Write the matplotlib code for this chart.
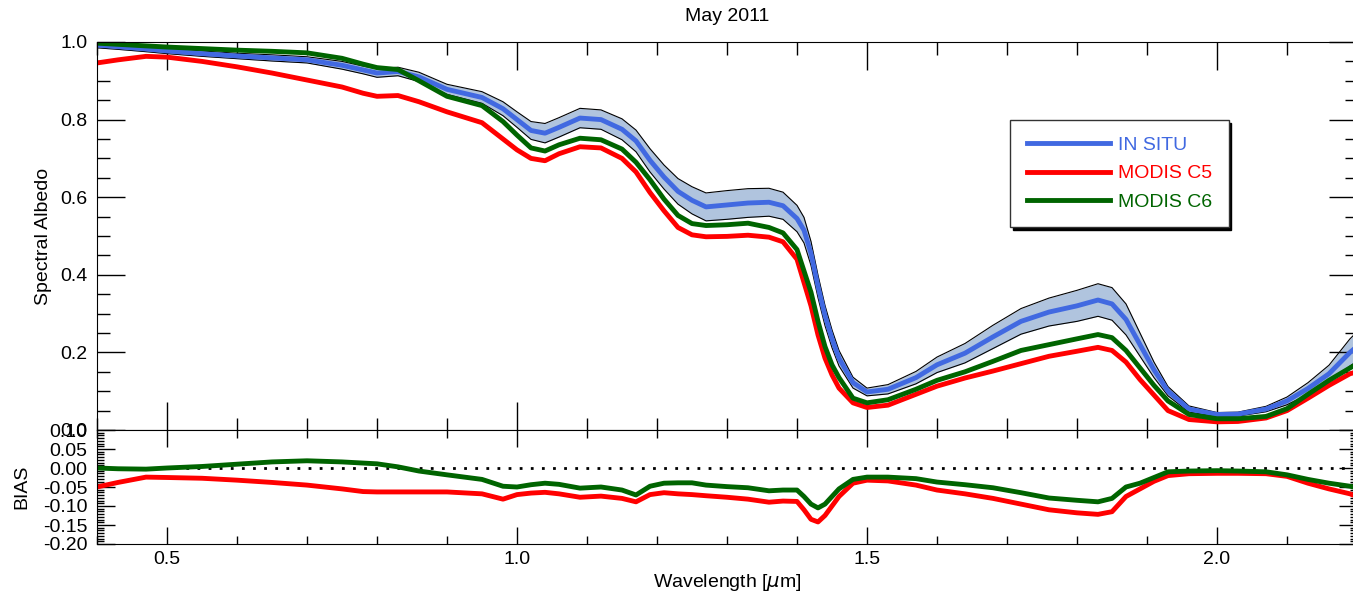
import matplotlib
matplotlib.use("Agg")
import matplotlib.pyplot as plt
from matplotlib.ticker import MultipleLocator, AutoMinorLocator
import numpy as np

plt.rcParams['font.family'] = ['Liberation Sans', 'DejaVu Sans']
plt.rcParams['font.size'] = 14

# wavelength grid (um)
wl = [0.40, 0.43, 0.47, 0.50, 0.55, 0.60, 0.65, 0.70, 0.75, 0.78, 0.80, 0.83, 0.86,
      0.90, 0.95, 0.98, 1.00, 1.02, 1.04, 1.06, 1.09, 1.12, 1.15, 1.17, 1.19, 1.21,
      1.23, 1.25, 1.27, 1.30, 1.33, 1.36, 1.38, 1.40, 1.41, 1.42, 1.43, 1.44, 1.45,
      1.46, 1.48, 1.50, 1.53, 1.57, 1.60, 1.64, 1.68, 1.72, 1.76, 1.80, 1.83, 1.85,
      1.87, 1.89, 1.91, 1.93, 1.96, 2.00, 2.03, 2.07, 2.10, 2.13, 2.16, 2.19, 2.20]

insitu = [0.992, 0.988, 0.982, 0.977, 0.970, 0.964, 0.959, 0.954, 0.940, 0.928, 0.920, 0.924, 0.910,
          0.878, 0.857, 0.828, 0.800, 0.772, 0.765, 0.780, 0.804, 0.800, 0.775, 0.745, 0.695, 0.652,
          0.615, 0.592, 0.575, 0.580, 0.585, 0.587, 0.578, 0.545, 0.515, 0.455, 0.370, 0.295, 0.235,
          0.185, 0.122, 0.098, 0.105, 0.135, 0.168, 0.198, 0.240, 0.280, 0.304, 0.320, 0.335, 0.325,
          0.285, 0.220, 0.155, 0.100, 0.054, 0.040, 0.041, 0.054, 0.075, 0.107, 0.145, 0.200, 0.215]

insitu_sd = [0.007, 0.007, 0.007, 0.007, 0.007, 0.007, 0.008, 0.008, 0.010, 0.010, 0.011, 0.011, 0.012,
             0.013, 0.015, 0.018, 0.020, 0.023, 0.025, 0.025, 0.025, 0.025, 0.027, 0.028, 0.030, 0.031,
             0.033, 0.035, 0.036, 0.037, 0.037, 0.036, 0.035, 0.034, 0.033, 0.031, 0.029, 0.026, 0.023,
             0.020, 0.014, 0.010, 0.012, 0.016, 0.020, 0.025, 0.030, 0.033, 0.036, 0.040, 0.042, 0.042,
             0.040, 0.030, 0.020, 0.012, 0.008, 0.005, 0.005, 0.007, 0.010, 0.015, 0.022, 0.035, 0.038]

modis_c5 = [0.946, 0.954, 0.963, 0.961, 0.950, 0.936, 0.920, 0.902, 0.884, 0.868, 0.860, 0.862, 0.846,
            0.820, 0.792, 0.750, 0.722, 0.700, 0.694, 0.712, 0.730, 0.727, 0.700, 0.665, 0.612, 0.565,
            0.522, 0.503, 0.498, 0.499, 0.502, 0.497, 0.485, 0.440, 0.380, 0.320, 0.245, 0.185, 0.142,
            0.108, 0.070, 0.058, 0.064, 0.092, 0.113, 0.134, 0.152, 0.171, 0.190, 0.203, 0.213, 0.205,
            0.175, 0.130, 0.090, 0.050, 0.027, 0.021, 0.022, 0.031, 0.050, 0.082, 0.115, 0.145, 0.150]

modis_c6 = [0.997, 0.994, 0.990, 0.987, 0.983, 0.979, 0.976, 0.972, 0.958, 0.943, 0.934, 0.929, 0.900,
            0.860, 0.836, 0.795, 0.760, 0.727, 0.719, 0.735, 0.752, 0.748, 0.724, 0.690, 0.645, 0.595,
            0.553, 0.532, 0.527, 0.529, 0.533, 0.522, 0.508, 0.465, 0.410, 0.355, 0.280, 0.215, 0.168,
            0.135, 0.082, 0.070, 0.078, 0.105, 0.128, 0.150, 0.177, 0.205, 0.220, 0.235, 0.246, 0.238,
            0.205, 0.160, 0.115, 0.075, 0.040, 0.029, 0.029, 0.035, 0.055, 0.092, 0.128, 0.160, 0.170]

bias_c5 = [-0.050, -0.038, -0.024, -0.025, -0.027, -0.032, -0.038, -0.045, -0.055, -0.062, -0.063, -0.063, -0.063,
           -0.063, -0.068, -0.082, -0.070, -0.066, -0.064, -0.068, -0.077, -0.074, -0.080, -0.089, -0.070, -0.065,
           -0.068, -0.070, -0.073, -0.077, -0.082, -0.090, -0.087, -0.088, -0.110, -0.135, -0.142, -0.125, -0.100,
           -0.075, -0.040, -0.032, -0.034, -0.045, -0.058, -0.068, -0.080, -0.095, -0.110, -0.118, -0.122, -0.115,
           -0.075, -0.055, -0.035, -0.020, -0.015, -0.014, -0.014, -0.015, -0.022, -0.040, -0.055, -0.068, -0.075]

bias_c6 = [0.000, -0.002, -0.003, 0.000, 0.004, 0.010, 0.016, 0.019, 0.016, 0.013, 0.011, 0.003, -0.008,
           -0.018, -0.030, -0.048, -0.050, -0.044, -0.040, -0.043, -0.053, -0.050, -0.058, -0.071, -0.048, -0.040,
           -0.039, -0.039, -0.045, -0.049, -0.052, -0.060, -0.058, -0.058, -0.075, -0.095, -0.105, -0.095, -0.075,
           -0.055, -0.030, -0.024, -0.024, -0.028, -0.037, -0.044, -0.052, -0.065, -0.079, -0.085, -0.089, -0.080,
           -0.050, -0.040, -0.025, -0.010, -0.008, -0.007, -0.008, -0.010, -0.018, -0.030, -0.040, -0.048, -0.052]

wl = np.array(wl)
insitu = np.array(insitu)
insitu_sd = np.array(insitu_sd)

blue = '#4169e1'
red = '#ff0000'
green = '#006400'
band = '#b0c4de'

W, H = 1353, 592
fig = plt.figure(figsize=(W / 100, H / 100), dpi=100)
ax1 = fig.add_axes([97 / W, 1 - 430 / H, 1260 / W, 388 / H])
ax2 = fig.add_axes([97 / W, 1 - 544 / H, 1260 / W, 114 / H], sharex=ax1)

# top panel
ax1.fill_between(wl, insitu - insitu_sd, insitu + insitu_sd, color=band, lw=0)
ax1.plot(wl, insitu - insitu_sd, color='k', lw=0.8)
ax1.plot(wl, insitu + insitu_sd, color='k', lw=0.8)
ax1.plot(wl, insitu, color=blue, lw=3.5, label='IN SITU')
ax1.plot(wl, modis_c5, color=red, lw=3.5, label='MODIS C5')
ax1.plot(wl, modis_c6, color=green, lw=3.5, label='MODIS C6')

ax1.set_xlim(0.4, 2.2)
ax1.set_ylim(0.0, 1.0)
ax1.yaxis.set_major_locator(MultipleLocator(0.2))
ax1.yaxis.set_minor_locator(MultipleLocator(0.05))
ax1.xaxis.set_major_locator(MultipleLocator(0.5))
ax1.xaxis.set_minor_locator(MultipleLocator(0.1))
ax1.yaxis.set_major_formatter(plt.FormatStrFormatter('%.1f'))
ax1.tick_params(which='both', direction='in', top=True, right=True, labelbottom=False, width=1)
ax1.tick_params(which='major', length=20)
ax1.tick_params(which='minor', length=9)
ax1.tick_params(axis='y', pad=7)
ax1.set_ylabel('Spectral Albedo')
ax1.yaxis.set_label_coords(-0.036, 0.5)
ax1.set_title('May 2011', fontsize=14, pad=15)

leg = ax1.legend(loc='upper left', bbox_to_anchor=(0.7246, 0.799), fancybox=False,
                 shadow={'color': 'black', 'alpha': 1}, framealpha=1, edgecolor='#333333',
                 handlelength=4.3, labelcolor='linecolor', borderpad=0.85, labelspacing=0.55,
                 handletextpad=0.4, borderaxespad=0)
leg.get_frame().set_linewidth(1)

# bias panel
ax2.axhline(0, color='k', ls=(0, (1, 3)), lw=2)
ax2.plot(wl, bias_c5, color=red, lw=3.5)
ax2.plot(wl, bias_c6, color=green, lw=3.5)
ax2.set_ylim(-0.2, 0.1)
ax2.yaxis.set_major_locator(MultipleLocator(0.05))
ax2.yaxis.set_minor_locator(AutoMinorLocator(7))
ax2.yaxis.set_major_formatter(plt.FormatStrFormatter('%.2f'))
ax2.tick_params(which='both', direction='in', top=True, right=True, width=1)
ax2.tick_params(axis='x', which='major', length=12, pad=5)
ax2.tick_params(axis='x', which='minor', length=6)
ax2.tick_params(axis='y', which='major', length=13, pad=7)
ax2.tick_params(axis='y', which='minor', length=5)
ax2.set_ylabel('BIAS')
ax2.yaxis.set_label_coords(-0.053, 0.5)
ax2.set_xlabel('Wavelength [$\\mu$m]', labelpad=3)

fig.savefig('out.png', dpi=100)
